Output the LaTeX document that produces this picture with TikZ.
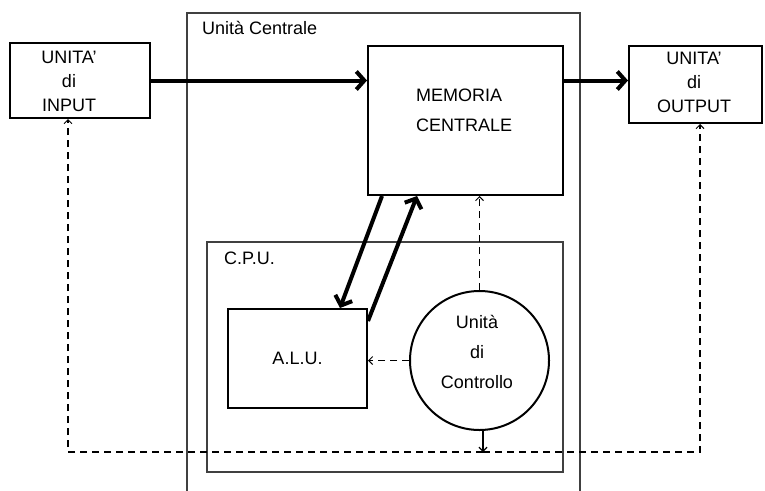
\documentclass[tikz,border=0pt]{standalone}
\usepackage{fontspec}
\setmainfont{Liberation Sans}
\usetikzlibrary{arrows.meta}
\begin{document}
\begin{tikzpicture}[x=1pt,y=-1pt,
    >={Straight Barb[length=8pt,width=18pt]},
    font=\fontsize{18}{24}\selectfont,
    blocco/.style={draw,line width=2pt,inner sep=0pt},
    cornice/.style={draw=black!75,line width=1.2pt},
    dati/.style={line width=4pt,->},
    segnale/.style={line width=1.2pt,dash pattern=on 7pt off 5pt,-{Straight Barb[length=4pt,width=8pt,line width=1pt]}},
    freccina/.style={line width=1.2pt,-{Straight Barb[length=4pt,width=8pt]}}]
  \useasboundingbox (0,0) rectangle (765,490);

  % unita' centrale e C.P.U.
  \draw[cornice] (187,500) -- (187,13) -- (580,13) -- (580,500);
  \node[anchor=base west,inner sep=0pt] (uclab) at (202,34) {Unità Centrale};
  \draw[cornice] (207,242) rectangle (563,472);
  \node[anchor=base west,inner sep=0pt] (cpulab) at (224,264) {C.P.U.};

  % blocchi
  \node[blocco,minimum width=140pt,minimum height=75pt] (input) at (80,80.5) {};
  \node[align=center] (inputtxt) at (69,81.7) {UNITA\char39\\di\\INPUT};
  \node[blocco,minimum width=133pt,minimum height=77pt] (output) at (695.5,84.5) {};
  \node[align=center] (outputtxt) at (694,82.5) {UNITA\char39\\di\\OUTPUT};
  \node[blocco,minimum width=195pt,minimum height=149pt] (memoria) at (465.5,120.5) {};
  \node[align=left,anchor=west,inner sep=0pt] (memtxt) at (416,110.7) {MEMORIA\\[6pt]CENTRALE};
  \node[blocco,minimum width=139pt,minimum height=99pt] (alu) at (297.5,358.5) {A.L.U.};
  \node[blocco,circle,minimum size=139pt] (cu) at (479.5,360.5) {};
  \node[align=center] (cutxt) at (477,351.5) {Unità\\[6pt]di\\[6pt]Controllo};

  \coordinate (busL) at (68,452);
  \coordinate (busR) at (700,452);

  % flussi dei dati
  \draw[dati] (input.east) -- (input.east -| memoria.west);
  \draw[dati] (memoria.east |- input.east) -- (output.west |- input.east);
  \draw[dati] ([xshift=15pt]memoria.south west) -- ([xshift=-28pt]alu.north east);
  \draw[dati] ([yshift=-13pt]alu.north east) -- ([xshift=50pt]memoria.south west);

  % segnali di controllo
  \draw[segnale] (cu.north) -- (cu.north |- memoria.south);
  \draw[segnale] (cu.west) -- (cu.west -| alu.east);
  \draw[freccina] ([xshift=3.5pt]cu.south) -- ([xshift=3.5pt]cu.south |- busL);
  \draw[segnale] ([xshift=3.5pt]cu.south |- busL) -- (busL) -- (busL |- input.south);
  \draw[segnale] ([xshift=3.5pt]cu.south |- busL) -- (busR) -- (busR |- output.south);
\end{tikzpicture}
\end{document}
